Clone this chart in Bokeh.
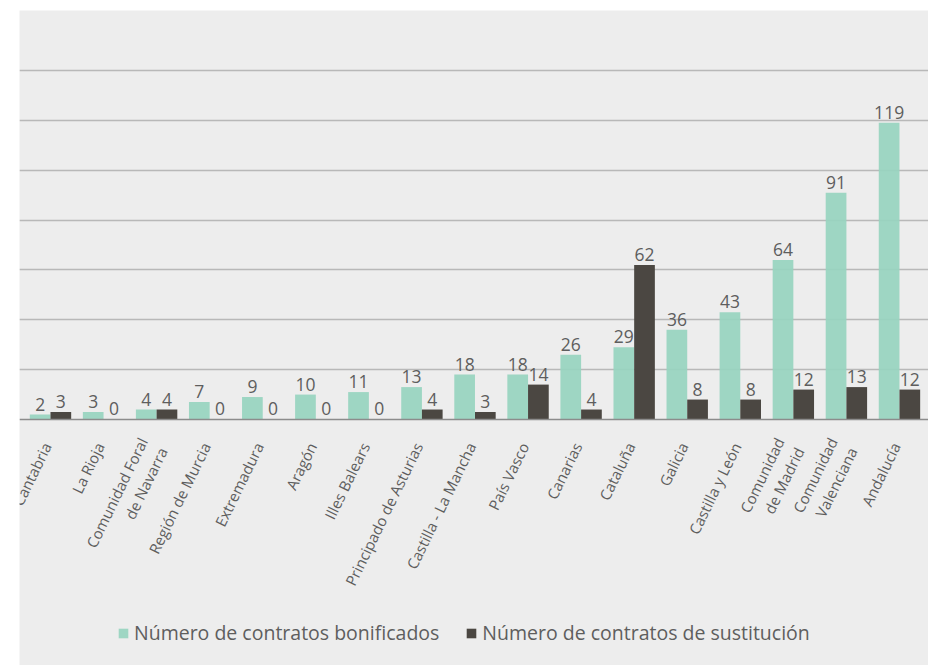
from bokeh.plotting import figure
from bokeh.models import Range1d, FixedTicker, Span, Legend, LegendItem, ColumnDataSource
from bokeh.core.properties import value
from bokeh.embed import file_html
from bokeh.resources import INLINE

categories = ["Cantabria", "La Rioja", "Comunidad Foral\nde Navarra", "Región de Murcia",
              "Extremadura", "Aragón", "Illes Balears", "Principado de Asturias",
              "Castilla - La Mancha", "País Vasco", "Canarias", "Cataluña", "Galicia",
              "Castilla y León", "Comunidad\nde Madrid", "Comunidad\nValenciana", "Andalucía"]
bonificados = [2, 3, 4, 7, 9, 10, 11, 13, 18, 18, 26, 29, 36, 43, 64, 91, 119]
sustitucion = [3, 0, 4, 0, 0, 0, 0, 4, 3, 14, 4, 62, 8, 8, 12, 13, 12]
series_names = ["Número de contratos bonificados", "Número de contratos de sustitución"]
grid_ticks = [20, 40, 60, 80, 100, 120, 140]

FONT = "Open Sans"
TXT = "#5e5e5e"
TEAL = "#97d4bf"
DARK = "#4b4742"
BG = "#ededed"

n = len(categories)
idx = list(range(n))
BW = 0.39
src = ColumnDataSource(dict(
    xb=[i - BW / 2 for i in idx],
    xs=[i + BW / 2 for i in idx],
    b=bonificados, s=sustitucion,
    bl=[str(v) for v in bonificados], sl=[str(v) for v in sustitucion],
    cat=categories,
    xc=[i - 0.07 for i in idx],
    zero=[0] * n,
))

p = figure(width=928, height=665, output_backend="svg", toolbar_location=None,
           x_range=Range1d(-0.584, 16.547), y_range=Range1d(-98.68, 164.06),
           min_border_left=19, min_border_top=10, min_border_right=0, min_border_bottom=0)
p.border_fill_color = "white"
p.background_fill_color = BG
p.outline_line_color = None
p.xaxis.visible = False
p.yaxis.visible = False
p.xgrid.visible = False
p.ygrid.ticker = FixedTicker(ticks=grid_ticks)
p.ygrid.grid_line_color = "#b8b8b8"
p.ygrid.grid_line_width = 1.3

rb = p.vbar(x="xb", top="b", width=BW, bottom=0, source=src, fill_color=TEAL,
            fill_alpha=0.92, line_color=None)
rs = p.vbar(x="xs", top="s", width=BW, bottom=0, source=src, fill_color=DARK,
            line_color=None)

p.add_layout(Span(location=0, dimension="width", line_color="#8c8c8c", line_width=1.5))

p.text(x="xb", y="b", text="bl", source=src, text_align="center", text_baseline="bottom",
       y_offset=-4, text_font=value(FONT), text_font_size="17.5px", text_color=TXT)
p.text(x="xs", y="s", text="sl", source=src, text_align="center", text_baseline="bottom",
       y_offset=-4, text_font=value(FONT), text_font_size="17.5px", text_color=TXT)

p.text(x="xc", y="zero", text="cat", source=src, angle=64, angle_units="deg",
       text_align="right", text_baseline="middle", y_offset=24,
       text_font=value(FONT), text_font_size="15px", text_color=TXT, text_line_height=1.1)

legend = Legend(items=[LegendItem(label=series_names[0], renderers=[rb]),
                       LegendItem(label=series_names[1], renderers=[rs])],
                orientation="horizontal", location=(98, 19),
                glyph_width=12, glyph_height=12, label_standoff=5, spacing=26,
                padding=0, margin=0, border_line_color=None, background_fill_alpha=0,
                label_text_font=FONT, label_text_font_size="19.5px", label_text_color=TXT)
p.add_layout(legend, "center")

open("out.html", "w").write(file_html(p, INLINE))
